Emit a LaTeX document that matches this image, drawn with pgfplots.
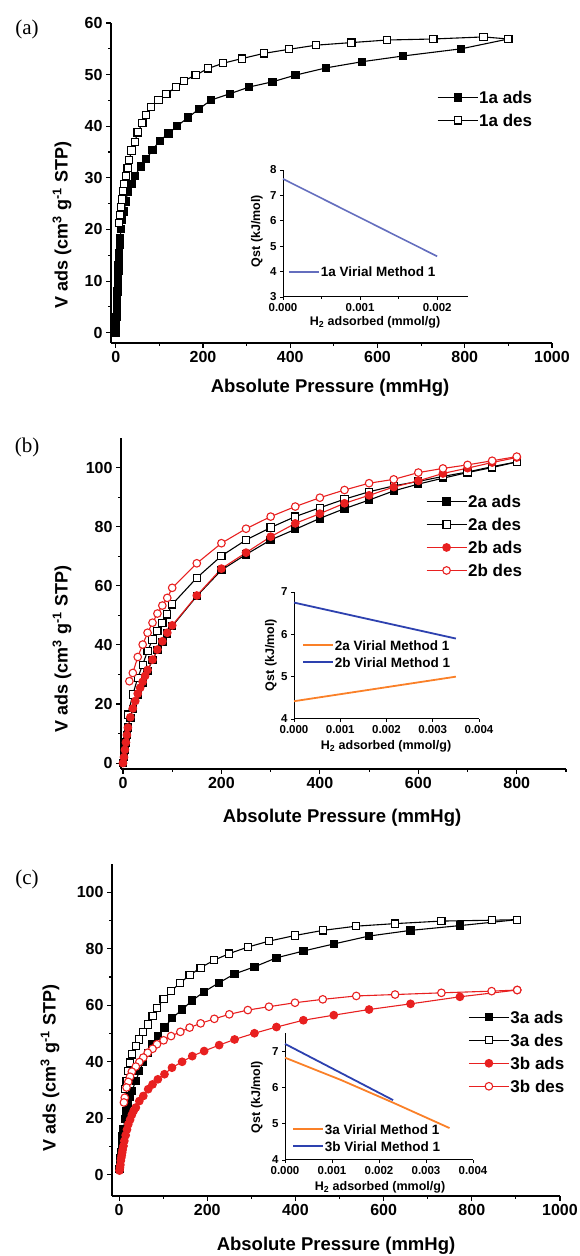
\documentclass[border=0pt]{standalone}
\usepackage{fontspec}
\setmainfont{Liberation Sans}
\newfontfamily\seriffont{Liberation Serif}
\usepackage{pgfplots}
\pgfplotsset{compat=1.18}

\definecolor{myred}{RGB}{232,32,32}
\definecolor{myorange}{RGB}{250,128,40}
\definecolor{myblue}{RGB}{45,65,175}
\definecolor{slate}{RGB}{100,110,190}

\newcommand{\fs}[1]{\fontsize{#1}{#1}\selectfont\bfseries}

\pgfplotsset{
  mainax/.style={
    scale only axis, anchor=south west, axis lines*=left, tick align=outside,
    axis line style={line width=1.3pt},
    major tick length=5pt, minor tick length=3pt,
    every tick/.style={black, line width=1.1pt},
    tick label style={font=\fs{16}},
    /pgf/number format/assume math mode=true,
    /pgf/number format/set thousands separator={},
    clip=false,
    legend style={draw=none, fill=none, font=\fs{17}, inner sep=0pt, row sep=9pt,
      nodes={inner sep=1pt, text height=12pt, text depth=0pt}},
    legend cell align=left,
    legend image code/.code={\draw[mark repeat=2,mark phase=2] plot coordinates {(0pt,0pt) (20pt,0pt) (40pt,0pt)};},
  },
  insetax/.style={
    scale only axis, anchor=south west, axis lines*=left, tick align=outside,
    axis line style={line width=1pt},
    major tick length=3pt, minor tick length=2pt,
    every tick/.style={black, line width=0.8pt},
    tick label style={font=\fs{11.5}},
    xticklabel style={inner xsep=0pt},
    /pgf/number format/assume math mode=true,
    scaled x ticks=false,
    xticklabel style={/pgf/number format/.cd, fixed, precision=3, zerofill},
    clip=false,
    legend style={draw=none, fill=none, font=\fs{13.5}, inner sep=0pt, row sep=5pt,
      nodes={inner sep=1pt, text height=10pt, text depth=0pt}},
    legend cell align=left,
    legend image code/.code={\draw (0pt,0pt) -- (30pt,0pt);},
  },
  adsK/.style={black, line width=1.1pt, mark=square*, mark size=3.6pt, mark options={solid, fill=black}},
  desK/.style={black, line width=1.1pt, mark=square*, mark size=3.6pt, mark options={solid, fill=white}},
  adsR/.style={myred, line width=1.1pt, mark=*, mark size=3.8pt, mark options={solid, fill=myred}},
  desR/.style={myred, line width=1.1pt, mark=*, mark size=3.8pt, mark options={solid, fill=white}},
}

\begin{document}
\begin{tikzpicture}[x=1pt,y=1pt]
\useasboundingbox (0,0) rectangle (580,1256);

% ---------------- (a)
\begin{axis}[mainax, at={(111pt,913pt)}, width=441pt, height=320pt,
  xmin=-11, xmax=1000, ymin=-2, ymax=60,
  xtick={0,200,...,1000}, minor xtick={100,300,...,900},
  ytick={0,10,...,60}, minor ytick={5,15,...,55},
  legend style={at={(0.739,0.79)}, anchor=north west}]
\addplot[adsK] coordinates {
 (0,0) (0.5,1) (1,2) (1.5,3) (2,4) (2.5,5) (3,6) (3.5,7) (4,8) (4.5,9) (5,10)
 (5.5,11) (6,12) (6.5,13) (7,14) (8,15.5) (9,17) (10,18.4) (12,20.1) (14,21.8)
 (19,23.5) (23,25.4) (27,27.2) (36,28.8) (44,30.4) (57,32.2) (70,33.6) (84,35.4)
 (101,37.2) (121,38.6) (140,40.0) (166,41.7) (190,43.3) (219,45.1) (262,46.3)
 (306,47.6) (359,48.6) (412,49.9) (482,51.3) (565,52.5) (658,53.6) (792,55.0) (900,56.9)};
\addplot[desK] coordinates {
 (900,56.9) (843,57.3) (728,56.9) (622,56.7) (540,56.2) (459,55.7) (397,54.9)
 (339,54.1) (289,53.1) (246,52.2) (212,51.2) (183,49.9) (156,48.8) (138,47.6)
 (116,46.2) (98,45.1) (81,43.7) (70,42.2) (61,40.6) (50,38.8) (44,37.0) (36,35.3)
 (31,33.5) (27,31.9) (23,30.4) (19,28.8) (17,27.4) (14,25.8) (12,24.3) (10,22.8) (8,21.2)};
\legend{1a ads, 1a des}
\end{axis}

\begin{axis}[insetax, at={(283pt,959pt)}, width=185pt, height=127pt,
  xmin=0, xmax=0.0024, ymin=3, ymax=8,
  xtick={0,0.001,0.002}, minor xtick={0.0005,0.0015}, ytick={3,...,8},
  legend style={at={(0.027,0.197)}, anchor=west}]
\addplot[slate, line width=1.6pt] coordinates {(0,7.65) (0.002,4.6)};
\legend{1a Virial Method 1}
\end{axis}

\node[font=\fs{18}, rotate=90] at (62,1031) {V ads (cm\textsuperscript{3} g\textsuperscript{-1} STP)};
\node[font=\fs{18.5}] at (330,868) {Absolute Pressure (mmHg)};
\node[font=\seriffont\fontsize{21}{21}\selectfont] at (27,1227) {(a)};
\node[font=\fs{12.5}, rotate=90] at (257,1025) {Qst (kJ/mol)};
\node[font=\fs{12.5}] at (375,934) {H\textsubscript{2} adsorbed (mmol/g)};

% ---------------- (b)
\begin{axis}[mainax, at={(121pt,487pt)}, width=445pt, height=331pt,
  xmin=-4, xmax=900, ymin=-2, ymax=110,
  xtick={0,200,...,800}, minor xtick={100,300,...,900},
  ytick={0,20,...,100}, minor ytick={10,30,...,90},
  legend style={at={(0.685,0.83)}, anchor=north west}]
\addplot[adsK] coordinates {
 (0,0) (2,2) (4,4.5) (6,7) (8,9.5) (10,12) (15,15.2) (20,18.2) (30,23.2) (40,27.3)
 (50,31.2) (60,34.8) (70,38.2) (80,41.0) (90,43.8) (100,46.3) (150,56.5) (200,65.3)
 (250,70.6) (300,75.5) (350,79.1) (400,82.8) (450,86.1) (500,89.0) (550,92.1)
 (600,94.4) (650,96.4) (700,98.3) (750,100.0) (800,101.9)};
\addplot[desK] coordinates {
 (800,101.9) (750,100.3) (700,98.5) (650,97.0) (600,95.3) (550,93.8) (500,91.8)
 (450,89.3) (400,86.4) (350,83.4) (300,79.7) (250,75.5) (200,70.1) (150,62.7)
 (100,53.7) (90,50.3) (80,47.5) (70,44.6) (60,41.8) (50,37.9) (40,33.3) (30,28.8)
 (20,23.2) (10,16.4)};
\addplot[adsR] coordinates {
 (0,0) (2,2) (4,4.5) (6,7) (8,9.5) (10,12) (15,15.5) (20,18.5) (25,21) (30,23.5)
 (35,25.5) (40,27.5) (45,29.5) (50,31.5) (60,35) (70,38.4) (80,41.2) (90,44.1)
 (100,46.6) (150,56.7) (200,65.8) (250,71.2) (300,76.6) (350,81.1) (400,84.4)
 (450,87.9) (500,90.6) (550,93.4) (600,95.5) (650,98) (700,99.8) (750,101.7) (800,103.4)};
\addplot[desR] coordinates {
 (800,103.7) (750,102.3) (700,100.9) (650,99.7) (600,98.3) (550,96) (500,94.7)
 (450,92.4) (400,89.8) (350,86.8) (300,83.4) (250,79.3) (200,74.4) (150,67.6)
 (100,59.3) (90,55.9) (80,53.3) (70,50.6) (60,47.5) (50,44.1) (40,40.1) (30,35.9)
 (20,30.5) (13,27.7)};
\legend{2a ads, 2a des, 2b ads, 2b des}
\end{axis}

\begin{axis}[insetax, at={(294pt,537pt)}, width=185pt, height=127pt,
  xmin=0, xmax=0.004, ymin=4, ymax=7,
  xtick={0,0.001,...,0.004}, ytick={4,...,7},
  legend style={at={(0.043,0.63)}, anchor=north west}]
\addplot[myorange, line width=1.8pt] coordinates {(0,4.42) (0.0035,5.0)};
\addplot[myblue, line width=1.8pt] coordinates {(0,6.75) (0.0035,5.9)};
\legend{2a Virial Method 1, 2b Virial Method 1}
\end{axis}

\node[font=\fs{18}, rotate=90] at (62,607) {V ads (cm\textsuperscript{3} g\textsuperscript{-1} STP)};
\node[font=\fs{18.5}] at (342,438) {Absolute Pressure (mmHg)};
\node[font=\seriffont\fontsize{21}{21}\selectfont] at (27,809) {(b)};
\node[font=\fs{12.5}, rotate=90] at (271,601) {Qst (kJ/mol)};
\node[font=\fs{12.5}] at (386,510) {H\textsubscript{2} adsorbed (mmol/g)};

% ---------------- (c)
\begin{axis}[mainax, at={(112pt,60pt)}, width=448pt, height=332pt,
  xmin=-16, xmax=1000, ymin=-7.5, ymax=110,
  xtick={0,200,...,1000}, minor xtick={100,300,...,900},
  ytick={0,20,...,100}, minor ytick={10,30,...,90},
  legend style={at={(0.795,0.56)}, anchor=north west}]
\addplot[adsK] coordinates {
 (1,2) (2,4) (3,6) (4,8) (6,11) (8,13.8) (10,16) (13,19.7) (17,22.5) (21,25.6)
 (25,27.7) (29,29.7) (38,33.2) (46,36.7) (55,39.9) (66,43.2) (76,46.2) (88,49.1)
 (103,52.1) (120,55.4) (143,58.5) (166,61.7) (193,64.8) (227,68.0) (262,71.1)
 (307,73.6) (357,76.8) (418,79.2) (487,81.7) (567,84.5) (661,86.5) (773,88.2) (903,90.3)};
\addplot[desK] coordinates {
 (903,90.3) (845,90.1) (731,89.8) (626,88.9) (538,88.0) (462,86.5) (399,84.7)
 (340,82.7) (292,80.6) (250,78.3) (216,76.0) (185,73.3) (160,70.6) (139,68.0)
 (118,65.0) (101,62.1) (86,59.1) (76,56.2) (65,53.2) (55,50.5) (46,47.9) (38,45.6)
 (29,42.6) (25,39.7) (21,36.7) (17,33.2) (13,30.3)};
\addplot[adsR] coordinates {
 (1,1.5) (2,2.5) (3,3.5) (4,5) (5,6) (6,6.9) (7,7.8) (8,8.8) (10,10.2) (12,12)
 (15,14) (18,16) (21,17.9) (25,19.5) (29,21.2) (33,22.6) (38,23.8) (46,26.1)
 (55,27.9) (66,30.3) (76,32.0) (88,33.8) (103,35.6) (120,37.9) (143,40.0) (166,42.0)
 (193,43.8) (227,45.9) (262,47.9) (307,50.1) (357,52.3) (418,54.7) (487,56.5)
 (567,58.5) (661,60.5) (773,63.0) (903,65.4)};
\addplot[desR] coordinates {
 (903,65.4) (845,65.0) (731,64.4) (626,63.8) (538,63.3) (462,62.1) (399,60.9)
 (340,59.5) (292,58.3) (250,56.8) (216,55.2) (185,53.6) (160,52.1) (139,50.6)
 (118,49.1) (101,47.6) (86,46.2) (76,44.6) (65,43.2) (55,41.5) (46,39.9) (38,38.3)
 (29,36.5) (25,34.7) (21,32.9) (17,30.9) (13,27.3) (11,25.6)};
\legend{3a ads, 3a des, 3b ads, 3b des}
\end{axis}

\begin{axis}[insetax, at={(285pt,96pt)}, width=188pt, height=127pt,
  xmin=0, xmax=0.004, ymin=4, ymax=7.5,
  xtick={0,0.001,...,0.004}, ytick={4,...,7},
  legend style={at={(0.037,0.29)}, anchor=north west}]
\addplot[myorange, line width=1.8pt] coordinates {(0,6.82) (0.0012,6.2) (0.0023,5.58) (0.0035,4.88)};
\addplot[myblue, line width=1.8pt] coordinates {(0,7.2) (0.0023,5.65)};
\legend{3a Virial Method 1, 3b Virial Method 1}
\end{axis}

\node[font=\fs{18}, rotate=90] at (50,188) {V ads (cm\textsuperscript{3} g\textsuperscript{-1} STP)};
\node[font=\fs{18.5}] at (336,10) {Absolute Pressure (mmHg)};
\node[font=\seriffont\fontsize{21}{21}\selectfont] at (27,377) {(c)};
\node[font=\fs{12.5}, rotate=90] at (257,159) {Qst (kJ/mol)};
\node[font=\fs{12.5}] at (380,69) {H\textsubscript{2} adsorbed (mmol/g)};

\end{tikzpicture}
\end{document}
